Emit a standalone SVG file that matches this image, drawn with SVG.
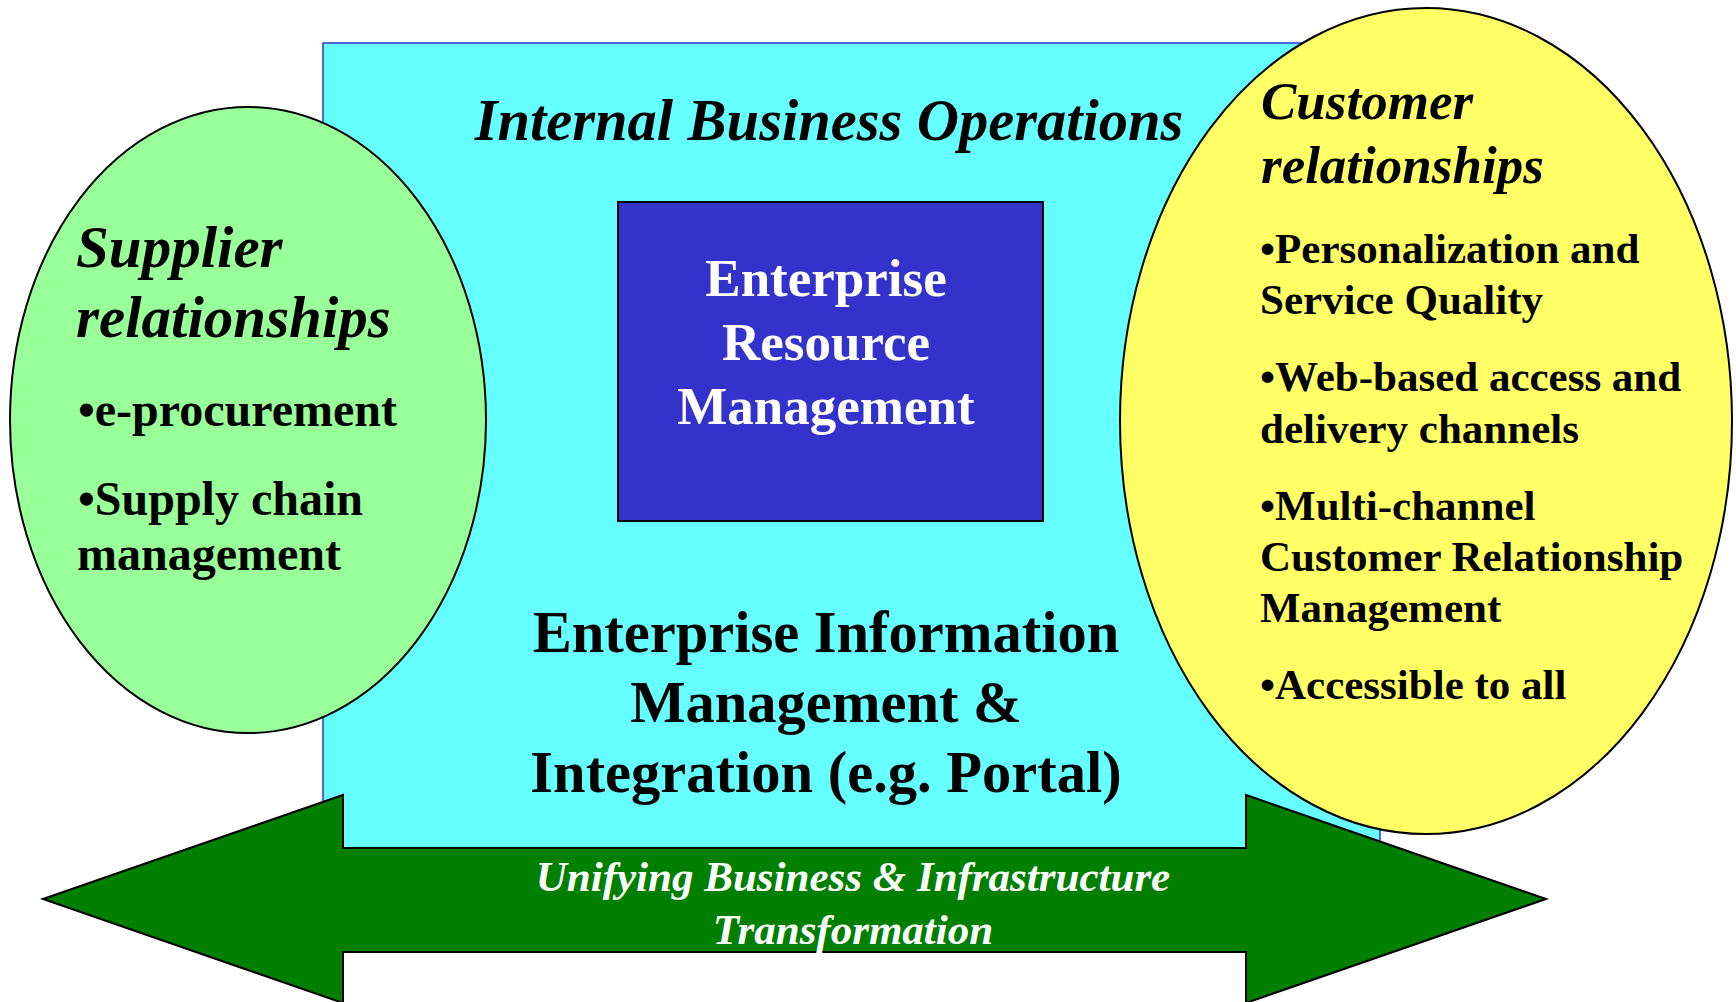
<svg xmlns="http://www.w3.org/2000/svg" width="1736" height="1002" viewBox="0 0 1736 1002">
<style>
.t{font-family:"Liberation Serif","Times New Roman",serif;font-weight:bold}
.i{font-style:italic}
.c{text-anchor:middle}
.w{fill:#ffffff}
.k{fill:#000000}
</style>
<rect width="1736" height="1002" fill="#ffffff"/>
<g id="internal-ops">
<rect x="323" y="43" width="1057" height="810" fill="#66FFFF" stroke="#3333CC" stroke-width="1.5"/>
<text class="t i c k" x="829" y="140" font-size="58.5">Internal Business Operations</text>
</g>
<g id="erm">
<rect x="618" y="202" width="425" height="319" fill="#3333CC" stroke="#000" stroke-width="2"/>
<text class="t c w" x="826" y="296" font-size="53">Enterprise</text>
<text class="t c w" x="826" y="360" font-size="53">Resource</text>
<text class="t c w" x="826" y="424" font-size="53">Management</text>
</g>
<g id="eim">
<text class="t c k" x="826" y="652" font-size="58.5">Enterprise Information</text>
<text class="t c k" x="826" y="722" font-size="58.5">Management &amp;</text>
<text class="t c k" x="826" y="792" font-size="58.5">Integration (e.g. Portal)</text>
</g>
<g id="supplier">
<ellipse cx="248" cy="420" rx="238" ry="313" fill="#99FF99" stroke="#000" stroke-width="2"/>
<text class="t i k" x="76" y="267" font-size="59">Supplier</text>
<text class="t i k" x="76" y="337" font-size="59">relationships</text>
<text class="t k" x="78" y="426" font-size="48">•e-procurement</text>
<text class="t k" x="78" y="515" font-size="48">•Supply chain</text>
<text class="t k" x="77" y="570" font-size="48">management</text>
</g>
<g id="customer">
<ellipse cx="1426" cy="421" rx="306" ry="413" fill="#FFFF66" stroke="#000" stroke-width="2"/>
<text class="t i k" x="1261" y="119" font-size="53">Customer</text>
<text class="t i k" x="1261" y="183" font-size="53">relationships</text>
<text class="t k" x="1260" y="263" font-size="43">•Personalization and</text>
<text class="t k" x="1260" y="314" font-size="43">Service Quality</text>
<text class="t k" x="1260" y="391" font-size="43">•Web-based access and</text>
<text class="t k" x="1260" y="443" font-size="43">delivery channels</text>
<text class="t k" x="1260" y="520" font-size="43">•Multi-channel</text>
<text class="t k" x="1260" y="571" font-size="43">Customer Relationship</text>
<text class="t k" x="1260" y="622" font-size="43">Management</text>
<text class="t k" x="1260" y="699" font-size="43">•Accessible to all</text>
</g>
<g id="connectors">
<g id="transformation-arrow">
<polygon points="43,899 343,795 343,848 1246,848 1246,795 1546,899 1246,1003 1246,952 343,952 343,1003" fill="#007F00" stroke="#000" stroke-width="2" stroke-linejoin="miter"/>
<text class="t i c w" x="853" y="891" font-size="43">Unifying Business &amp; Infrastructure</text>
<text class="t i c w" x="853" y="944" font-size="43">Transformation</text>
</g>
</g>
</svg>
